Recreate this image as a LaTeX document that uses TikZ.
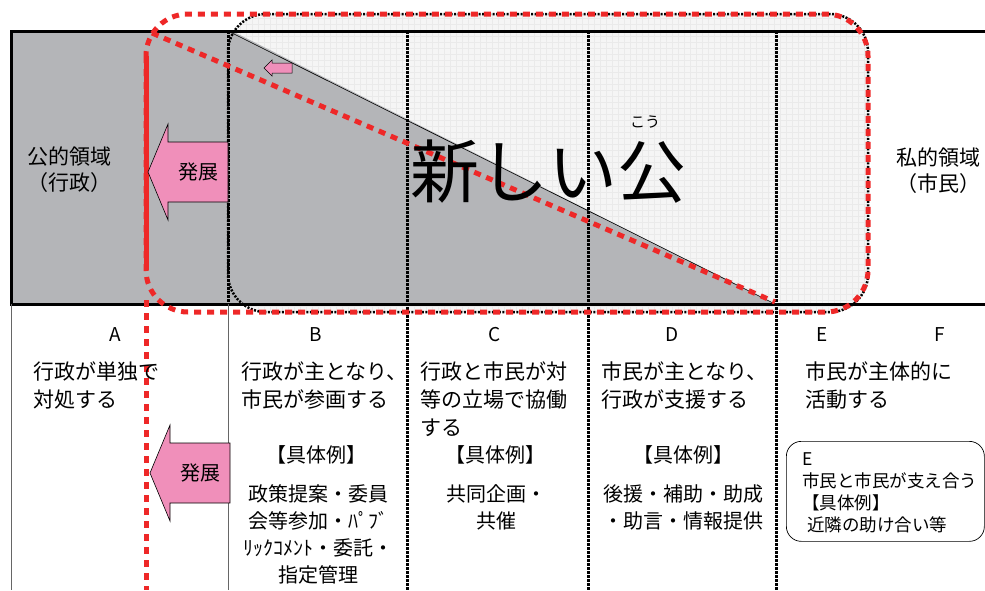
\documentclass[tikz,border=0pt]{standalone}
\usepackage{fontspec}
\setmainfont{Noto Sans CJK JP}
\usetikzlibrary{positioning}
\definecolor{bandgray}{RGB}{180,181,184}
\definecolor{patgray}{RGB}{245,245,245}
\definecolor{gridgray}{RGB}{234,234,234}
\definecolor{dotred}{RGB}{238,40,40}
\definecolor{pinkfill}{RGB}{240,143,186}
\tikzset{
  reddash/.style={dotred, line width=5pt, dash pattern=on 7pt off 6pt},
  coldiv/.style={line width=3pt, dash pattern=on 2.5pt off 1.5pt},
  thinrule/.style={black!60, line width=0.8pt},
  desc/.style={anchor=north west, inner sep=0pt, align=left, font=\fontsize{21}{28}\selectfont},
  expl/.style={anchor=north, inner sep=0pt, align=center, font=\fontsize{20}{27}\selectfont},
  colhead/.style={inner sep=0pt, font=\fontsize{19}{22}\selectfont},
  pics/growarrow/.style={code={
    \draw[fill=pinkfill, line width=0.6pt] (0,0) -- (20,-48) -- (20,-30) -- (80,-30)
      -- (80,30) -- (20,30) -- (20,48) -- cycle;
    \node[inner sep=0pt, font=\fontsize{20}{20}\selectfont] (-label) at (50,0) {発展};}}
}
\begin{document}
\begin{tikzpicture}[x=1pt,y=-1pt]
 \useasboundingbox (0,0) rectangle (985,590);
 % light zone of the new public
 \begin{scope}
  \clip[rounded corners=38pt] (228,14) rectangle (868,312);
  \fill[patgray] (228,14) rectangle (868,312);
  \draw[gridgray, line width=0.3pt, step=6pt] (228,14) grid (868,312);
 \end{scope}
 % public part
 \fill[bandgray] (11,31) -- (232,31) -- (775,304) -- (11,304) -- cycle;
 \draw[line width=0.6pt] (232,33) -- (775,304);
 \draw[line width=3pt] (985,31) -- (11,31) -- (11,304) -- (985,304);
 % columns
 \draw[thinrule] (11,304) -- (11,590);
 \draw[thinrule] (228,304) -- (228,590);
 \draw[coldiv] (228,31) -- (228,304);
 \foreach \xd in {407,588,776}
  \draw[coldiv] (\xd,31) -- (\xd,590);
 \draw[line width=2.5pt, dash pattern=on 2pt off 1.5pt, rounded corners=38pt]
  (228,14) rectangle (868,312);
 % red boundary
 \draw[reddash, rounded corners=42pt] (146,14) rectangle (868,312);
 \draw[dotred, line width=5pt] (146,56) -- (146,270);
 \draw[reddash] (146,300) -- (146,590);
 \draw[reddash] (152,33) -- (775,302);
 % arrows
 \pic (arrowtop) at (148,172) {growarrow};
 \pic (arrowlow) at (150,473) {growarrow};
 \draw[fill=pinkfill, line width=0.5pt] (264,68) -- (272,60) -- (272,63) -- (292,63)
  -- (292,73) -- (272,73) -- (272,76) -- cycle;
 % band texts
 \node[desc, font=\fontsize{21}{26}\selectfont] (pubarea) at (27,147) {公的領域\\（行政）};
 \node[desc, anchor=north east, align=right, font=\fontsize{21}{26}\selectfont] (privarea)
  at (981,148) {私的領域\\（市民）};
 \node[inner sep=0pt, font=\fontsize{69}{69}\selectfont] (newpub) at (548,172) {新しい公};
 \node[inner sep=0pt, font=\fontsize{15}{15}\selectfont] (ruby) at (645,122) {こう};
 % columns below
 \foreach \xh/\lt in {115/A,316/B,495/C,672/D,822/E,940/F}
  \node[colhead] (head\lt) at (\xh,335) {\lt};
 \node[desc] (descA) at (33,362) {行政が単独で\\対処する};
 \node[desc] (descB) at (241,362) {行政が主となり、\\市民が参画する};
 \node[desc] (descC) at (420,362) {行政と市民が対\\等の立場で協働\\する};
 \node[desc] (descD) at (601,362) {市民が主となり、\\行政が支援する};
 \node[desc] (descE) at (805,362) {市民が主体的に\\活動する};
 \node[expl] (exB) at (316,445) {【具体例】};
 \node[expl] (exC) at (495,445) {【具体例】};
 \node[expl] (exD) at (683,445) {【具体例】};
 \node[expl] (listB) at (318,484) {政策提案・委員\\会等参加・ﾊﾟﾌﾞ\\ﾘｯｸｺﾒﾝﾄ・委託・\\指定管理};
 \node[expl] (listC) at (496,484) {共同企画・\\共催};
 \node[expl] (listD) at (683,484) {後援・補助・助成\\・助言・情報提供};
 \node[draw, rounded corners=15pt, line width=0.7pt, minimum width=198pt,
  minimum height=100pt, anchor=north west] (ebox) at (786,441) {};
 \node[anchor=north west, inner sep=0pt, align=left, font=\fontsize{17.5}{22}\selectfont]
  (etext) at (802,452) {E\\市民と市民が支え合う\\【具体例】\\\hspace*{5pt}近隣の助け合い等};
\end{tikzpicture}
\end{document}
